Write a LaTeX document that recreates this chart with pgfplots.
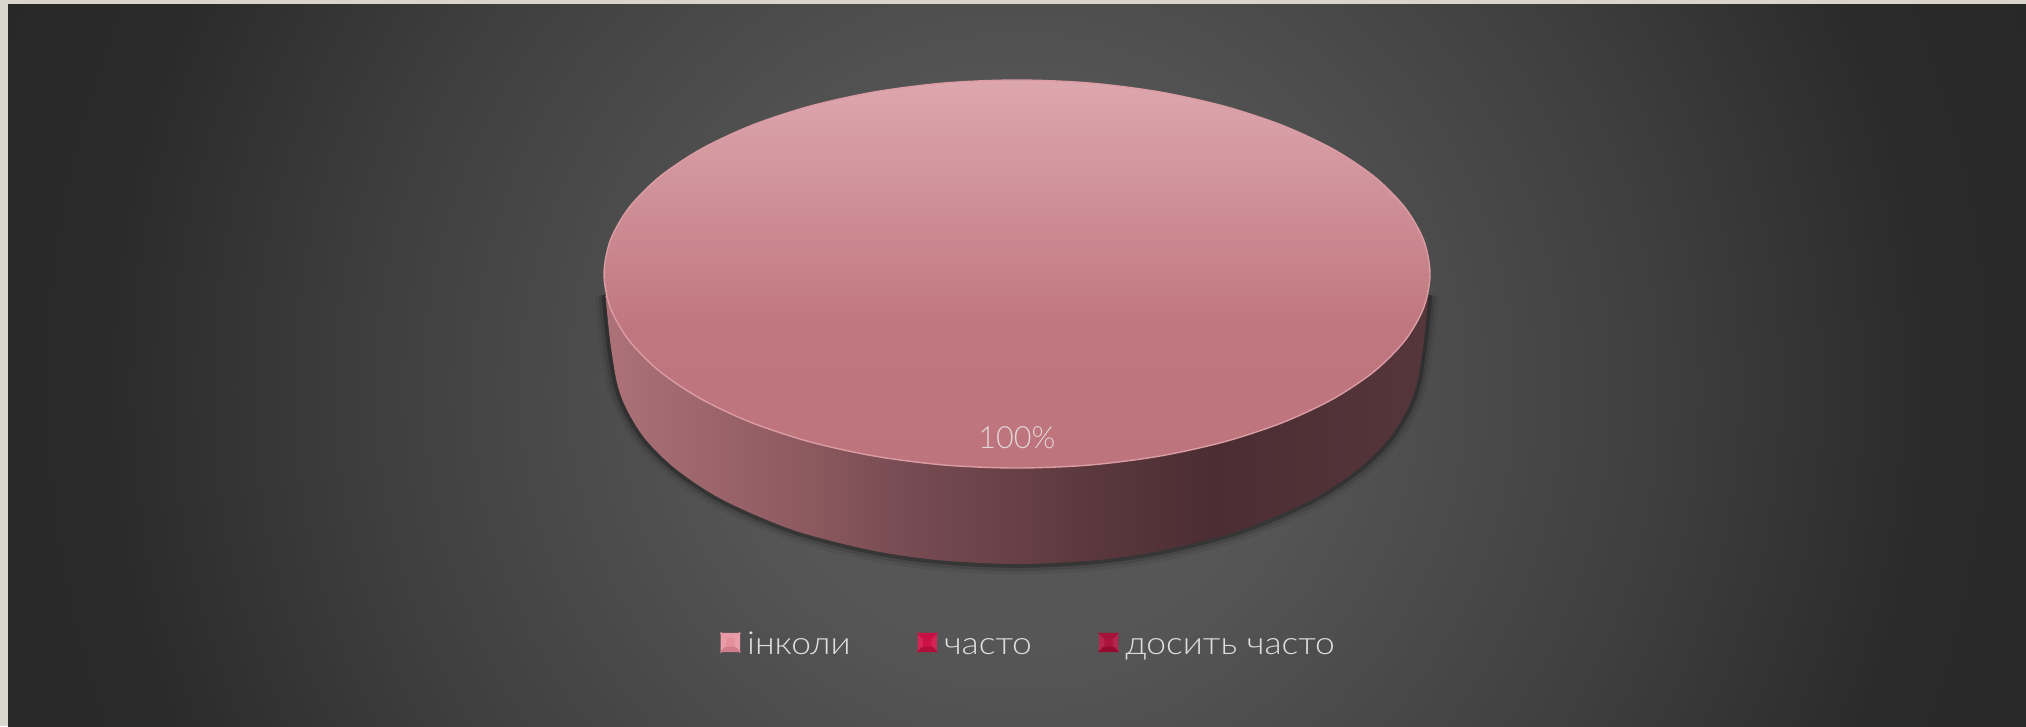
\documentclass[border=0pt]{standalone}
\usepackage{fontspec}
\usepackage{pgfplots}
\usepackage{pgfplotstable}
\pgfplotsset{compat=1.18}
\setmainfont{Lato Light}[FakeStretch=1.12]
\newfontfamily\labelfont{Lato Light}

\definecolor{framecol}{HTML}{D8D5CD}
\definecolor{labelcol}{HTML}{E2D6D8}
\definecolor{legendtext}{HTML}{DEDEDE}
\definecolor{rimcol}{HTML}{DC9CA4}

\pgfdeclareradialshading{slidebg}{\pgfpointorigin}{
  rgb(0bp)=(0.345,0.345,0.345);
  rgb(6bp)=(0.335,0.335,0.335);
  rgb(14bp)=(0.245,0.245,0.245);
  rgb(20bp)=(0.165,0.165,0.165);
  rgb(25bp)=(0.155,0.155,0.155);
  rgb(50bp)=(0.155,0.155,0.155)}
\pgfdeclareverticalshading{pietop}{100bp}{
  rgb(0bp)=(0.745,0.455,0.486);
  rgb(25bp)=(0.745,0.455,0.486);
  rgb(43bp)=(0.753,0.463,0.494);
  rgb(75bp)=(0.867,0.655,0.682);
  rgb(100bp)=(0.867,0.655,0.682)}
\pgfdeclarehorizontalshading{pieside}{100bp}{
  rgb(0bp)=(0.675,0.447,0.471);
  rgb(25bp)=(0.675,0.447,0.471);
  rgb(37bp)=(0.553,0.353,0.373);
  rgb(43bp)=(0.467,0.298,0.322);
  rgb(55bp)=(0.353,0.216,0.235);
  rgb(62bp)=(0.294,0.176,0.2);
  rgb(75bp)=(0.333,0.212,0.231);
  rgb(100bp)=(0.333,0.212,0.231)}

% pie outlines in picture pixels
\pgfplotstableread{
x y
604 274
610.3 307.7
628.9 340.3
659.3 371
700.6 398.7
751.5 422.6
810.5 442
875.7 456.3
945.3 465.1
1017 468
1088.7 465.1
1158.3 456.3
1223.5 442
1282.5 422.6
1333.4 398.7
1374.7 371
1405.1 340.3
1423.7 307.7
1430 274
1423.7 240.3
1405.1 207.7
1374.7 177
1333.4 149.3
1282.5 125.4
1223.5 106
1158.3 91.7
1088.7 82.9
1017 80
945.3 82.9
875.7 91.7
810.5 106
751.5 125.4
700.6 149.3
659.3 177
628.9 207.7
610.3 240.3
}\toprim
\pgfplotstableread{
x y
605.5 295
610 340
617 383
627 410
646 440
677 470
723 500
793 530
870 550
937 560
1017 564
1097 560
1164 550
1241 530
1311 500
1357 470
1388 440
1407 410
1417 383
1424 340
1428.5 295
}\sidewall

% small bevelled legend swatch: face, side, top, bottom
\newcommand{\swatch}[4]{%
  \fill[#1] (0cm,-0.045cm) rectangle (0.18cm,0.135cm);
  \fill[#2] (0cm,-0.045cm) -- (0.04cm,-0.005cm) -- (0.04cm,0.095cm) -- (0cm,0.135cm) -- cycle;
  \fill[#2] (0.18cm,-0.045cm) -- (0.14cm,-0.005cm) -- (0.14cm,0.095cm) -- (0.18cm,0.135cm) -- cycle;
  \fill[#3] (0cm,0.135cm) -- (0.04cm,0.095cm) -- (0.14cm,0.095cm) -- (0.18cm,0.135cm) -- cycle;
  \fill[#4] (0cm,-0.045cm) -- (0.04cm,-0.005cm) -- (0.14cm,-0.005cm) -- (0.18cm,-0.045cm) -- cycle;
}
\definecolor{aface}{HTML}{E58E9C}
\definecolor{aside}{HTML}{EA9EAA}
\definecolor{atop}{HTML}{E89AA6}
\definecolor{abot}{HTML}{D07C8A}
\definecolor{bface}{HTML}{CC1246}
\definecolor{bside}{HTML}{D42654}
\definecolor{btop}{HTML}{C81044}
\definecolor{bbot}{HTML}{B00E3A}
\definecolor{cface}{HTML}{AA143E}
\definecolor{cside}{HTML}{B4264C}
\definecolor{ctop}{HTML}{A4143A}
\definecolor{cbot}{HTML}{960A30}

\begin{document}
\begin{tikzpicture}
  \useasboundingbox (0,0) rectangle (20.26,7.26);
  \fill[framecol] (0,0) rectangle (20.26,7.26);
  \begin{scope}
    \clip (0.08,0) rectangle (20.26,7.22);
    \shade[shading=slidebg] (10.17,3.4) circle (11.5cm);
  \end{scope}
  \begin{axis}[
      at={(0,0)},
      anchor=south west,
      scale only axis,
      width=20.26cm,
      height=7.26cm,
      xmin=0, xmax=2026,
      ymin=0, ymax=726,
      y dir=reverse,
      hide axis,
      clip=false,
      legend columns=3,
      legend cell align=left,
      legend style={
        at={(axis cs:720,647)},
        anchor=west,
        draw=none,
        fill=none,
        inner sep=0pt,
        font=\fontsize{9}{11}\selectfont,
        text=legendtext,
        nodes={text height=0.2cm, text depth=0.05cm},
        /tikz/every even column/.append style={column sep=0.60cm},
      },
    ]
    % soft shadow round the lower edge
    \addplot[smooth, draw=black, opacity=0.06, line width=6pt, no marks, forget plot] table {\sidewall};
    \addplot[smooth, draw=black, opacity=0.1, line width=4pt, no marks, forget plot] table {\sidewall};
    \addplot[smooth, draw=black, opacity=0.24, line width=2.2pt, no marks, forget plot] table {\sidewall};
    % wall and top of the single 100% slice
    \addplot[smooth, draw=none, shading=pieside, no marks, forget plot] table {\sidewall} -- cycle;
    \addplot[smooth cycle, draw=rimcol, line width=0.4pt, shading=pietop, no marks, forget plot] table {\toprim};

    \node[font=\labelfont\fontsize{8.7}{11}\selectfont, text=labelcol] at (axis cs:1017,438) {100\%};

    \addlegendimage{legend image code/.code={\swatch{aface}{aside}{atop}{abot}}}
    \addlegendentry{інколи}
    \addlegendimage{legend image code/.code={\swatch{bface}{bside}{btop}{bbot}}}
    \addlegendentry{часто}
    \addlegendimage{legend image code/.code={\swatch{cface}{cside}{ctop}{cbot}}}
    \addlegendentry{досить часто}
  \end{axis}
\end{tikzpicture}
\end{document}
